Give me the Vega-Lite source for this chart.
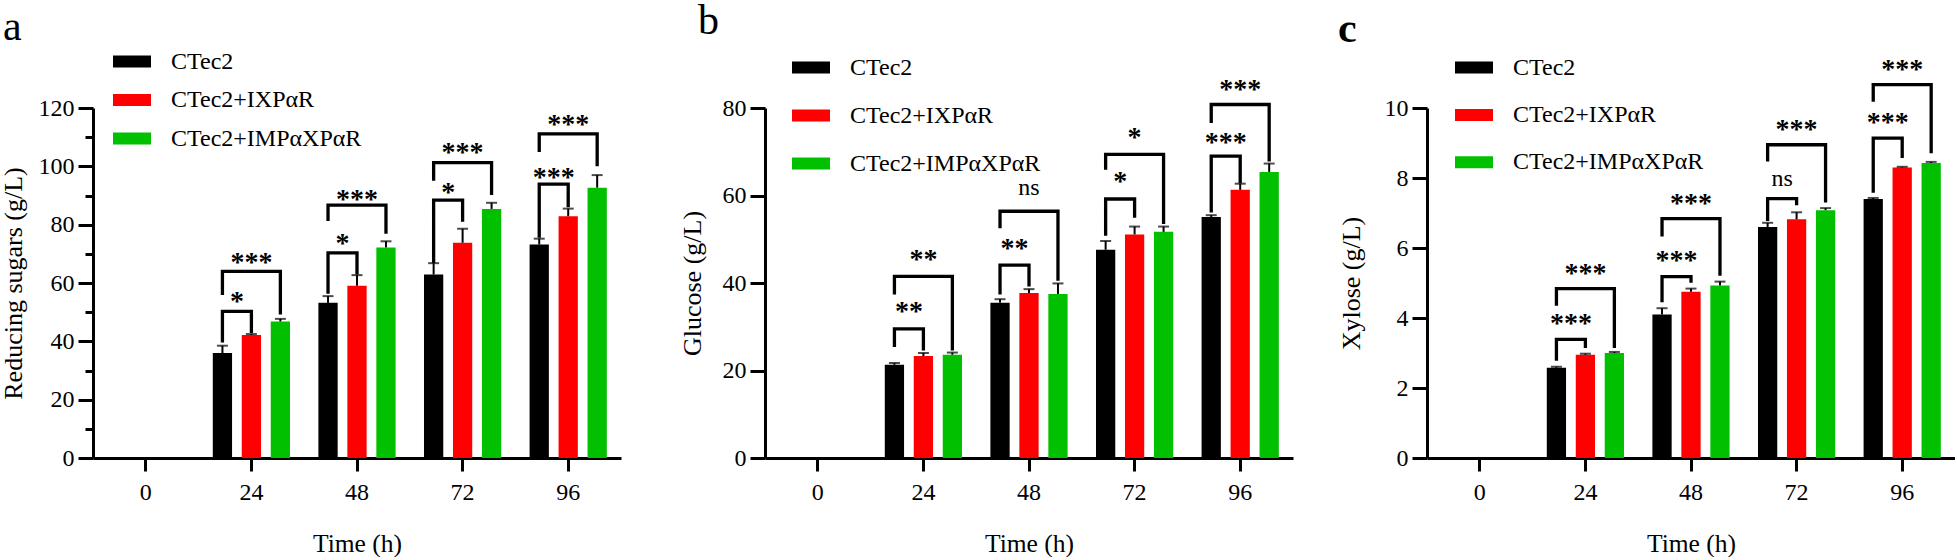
{
"$schema":"https://vega.github.io/schema/vega-lite/v6.json",
"padding":0,
"background":"white",
"config":{"view":{"stroke":null},"font":"Liberation Serif",
"axis":{"domainColor":"black","domainWidth":3,"tickColor":"black","tickWidth":3,"labelFont":"Liberation Serif","labelFontSize":24,"labelColor":"black","titleFont":"Liberation Serif","titleFontSize":25.5,"titleFontWeight":"normal","titleColor":"black","grid":false},
"axisY":{"titleFontSize":26},
"legend":{"title":null,"orient":"none","direction":"vertical","symbolType":"M-1,-0.3158H1V0.3158H-1Z","symbolSize":1444,"symbolStrokeWidth":0,"symbolOpacity":1,"labelFont":"Liberation Serif","labelFontSize":24,"labelColor":"black","labelOffset":20,"labelLimit":0,"padding":0}},
"datasets":{
"bars":[
{"p":"a","t":24,"s":"CTec2","v":36.0,"hi":38.5},{"p":"a","t":24,"s":"CTec2+IXPαR","v":42.2,"hi":42.5},{"p":"a","t":24,"s":"CTec2+IMPαXPαR","v":46.8,"hi":47.7},
{"p":"a","t":48,"s":"CTec2","v":53.2,"hi":55.5},{"p":"a","t":48,"s":"CTec2+IXPαR","v":59.1,"hi":62.7},{"p":"a","t":48,"s":"CTec2+IMPαXPαR","v":72.2,"hi":74.3},
{"p":"a","t":72,"s":"CTec2","v":62.9,"hi":66.8},{"p":"a","t":72,"s":"CTec2+IXPαR","v":73.8,"hi":78.6},{"p":"a","t":72,"s":"CTec2+IMPαXPαR","v":85.4,"hi":87.5},
{"p":"a","t":96,"s":"CTec2","v":73.2,"hi":75.2},{"p":"a","t":96,"s":"CTec2+IXPαR","v":82.9,"hi":85.5},{"p":"a","t":96,"s":"CTec2+IMPαXPαR","v":92.7,"hi":97.0},
{"p":"b","t":24,"s":"CTec2","v":21.3,"hi":21.7},{"p":"b","t":24,"s":"CTec2+IXPαR","v":23.3,"hi":24.0},{"p":"b","t":24,"s":"CTec2+IMPαXPαR","v":23.6,"hi":24.1},
{"p":"b","t":48,"s":"CTec2","v":35.5,"hi":36.3},{"p":"b","t":48,"s":"CTec2+IXPαR","v":37.7,"hi":38.6},{"p":"b","t":48,"s":"CTec2+IMPαXPαR","v":37.5,"hi":39.9},
{"p":"b","t":72,"s":"CTec2","v":47.6,"hi":49.6},{"p":"b","t":72,"s":"CTec2+IXPαR","v":51.1,"hi":52.9},{"p":"b","t":72,"s":"CTec2+IMPαXPαR","v":51.7,"hi":52.9},
{"p":"b","t":96,"s":"CTec2","v":55.1,"hi":55.5},{"p":"b","t":96,"s":"CTec2+IXPαR","v":61.3,"hi":62.7},{"p":"b","t":96,"s":"CTec2+IMPαXPαR","v":65.4,"hi":67.3},
{"p":"c","t":24,"s":"CTec2","v":2.58,"hi":2.61},{"p":"c","t":24,"s":"CTec2+IXPαR","v":2.95,"hi":2.98},{"p":"c","t":24,"s":"CTec2+IMPαXPαR","v":3.0,"hi":3.03},
{"p":"c","t":48,"s":"CTec2","v":4.1,"hi":4.28},{"p":"c","t":48,"s":"CTec2+IXPαR","v":4.75,"hi":4.84},{"p":"c","t":48,"s":"CTec2+IMPαXPαR","v":4.93,"hi":5.04},
{"p":"c","t":72,"s":"CTec2","v":6.6,"hi":6.72},{"p":"c","t":72,"s":"CTec2+IXPαR","v":6.82,"hi":7.02},{"p":"c","t":72,"s":"CTec2+IMPαXPαR","v":7.08,"hi":7.14},
{"p":"c","t":96,"s":"CTec2","v":7.4,"hi":7.43},{"p":"c","t":96,"s":"CTec2+IXPαR","v":8.3,"hi":8.32},{"p":"c","t":96,"s":"CTec2+IMPαXPαR","v":8.43,"hi":8.46}
],
"br":[
{"p":"a","t":24,"b":"24s","o":1,"s":"CTec2","v":39.6},{"p":"a","t":24,"b":"24s","o":2,"s":"CTec2","v":50.3},{"p":"a","t":24,"b":"24s","o":3,"s":"CTec2+IXPαR","v":50.3},{"p":"a","t":24,"b":"24s","o":4,"s":"CTec2+IXPαR","v":42.9},
{"p":"a","t":24,"b":"24l","o":1,"s":"CTec2","v":55.9},{"p":"a","t":24,"b":"24l","o":2,"s":"CTec2","v":64.0},{"p":"a","t":24,"b":"24l","o":3,"s":"CTec2+IMPαXPαR","v":64.0},{"p":"a","t":24,"b":"24l","o":4,"s":"CTec2+IMPαXPαR","v":49.2},
{"p":"a","t":48,"b":"48s","o":1,"s":"CTec2","v":56.3},{"p":"a","t":48,"b":"48s","o":2,"s":"CTec2","v":70.3},{"p":"a","t":48,"b":"48s","o":3,"s":"CTec2+IXPαR","v":70.3},{"p":"a","t":48,"b":"48s","o":4,"s":"CTec2+IXPαR","v":62.9},
{"p":"a","t":48,"b":"48l","o":1,"s":"CTec2","v":81.3},{"p":"a","t":48,"b":"48l","o":2,"s":"CTec2","v":86.7},{"p":"a","t":48,"b":"48l","o":3,"s":"CTec2+IMPαXPαR","v":86.7},{"p":"a","t":48,"b":"48l","o":4,"s":"CTec2+IMPαXPαR","v":76.9},
{"p":"a","t":72,"b":"72s","o":1,"s":"CTec2","v":66.9},{"p":"a","t":72,"b":"72s","o":2,"s":"CTec2","v":88.4},{"p":"a","t":72,"b":"72s","o":3,"s":"CTec2+IXPαR","v":88.4},{"p":"a","t":72,"b":"72s","o":4,"s":"CTec2+IXPαR","v":81.0},
{"p":"a","t":72,"b":"72l","o":1,"s":"CTec2","v":95.1},{"p":"a","t":72,"b":"72l","o":2,"s":"CTec2","v":101.3},{"p":"a","t":72,"b":"72l","o":3,"s":"CTec2+IMPαXPαR","v":101.3},{"p":"a","t":72,"b":"72l","o":4,"s":"CTec2+IMPαXPαR","v":90.2},
{"p":"a","t":96,"b":"96s","o":1,"s":"CTec2","v":75.5},{"p":"a","t":96,"b":"96s","o":2,"s":"CTec2","v":93.9},{"p":"a","t":96,"b":"96s","o":3,"s":"CTec2+IXPαR","v":93.9},{"p":"a","t":96,"b":"96s","o":4,"s":"CTec2+IXPαR","v":86.0},
{"p":"a","t":96,"b":"96l","o":1,"s":"CTec2","v":104.9},{"p":"a","t":96,"b":"96l","o":2,"s":"CTec2","v":111.1},{"p":"a","t":96,"b":"96l","o":3,"s":"CTec2+IMPαXPαR","v":111.1},{"p":"a","t":96,"b":"96l","o":4,"s":"CTec2+IMPαXPαR","v":100.0},
{"p":"b","t":24,"b":"24s","o":1,"s":"CTec2","v":25.4},{"p":"b","t":24,"b":"24s","o":2,"s":"CTec2","v":29.5},{"p":"b","t":24,"b":"24s","o":3,"s":"CTec2+IXPαR","v":29.5},{"p":"b","t":24,"b":"24s","o":4,"s":"CTec2+IXPαR","v":24.6},
{"p":"b","t":24,"b":"24l","o":1,"s":"CTec2","v":37.4},{"p":"b","t":24,"b":"24l","o":2,"s":"CTec2","v":41.5},{"p":"b","t":24,"b":"24l","o":3,"s":"CTec2+IMPαXPαR","v":41.5},{"p":"b","t":24,"b":"24l","o":4,"s":"CTec2+IMPαXPαR","v":24.6},
{"p":"b","t":48,"b":"48s","o":1,"s":"CTec2","v":37.4},{"p":"b","t":48,"b":"48s","o":2,"s":"CTec2","v":44.1},{"p":"b","t":48,"b":"48s","o":3,"s":"CTec2+IXPαR","v":44.1},{"p":"b","t":48,"b":"48s","o":4,"s":"CTec2+IXPαR","v":39.2},
{"p":"b","t":48,"b":"48l","o":1,"s":"CTec2","v":52.5},{"p":"b","t":48,"b":"48l","o":2,"s":"CTec2","v":56.4},{"p":"b","t":48,"b":"48l","o":3,"s":"CTec2+IMPαXPαR","v":56.4},{"p":"b","t":48,"b":"48l","o":4,"s":"CTec2+IMPαXPαR","v":40.5},
{"p":"b","t":72,"b":"72s","o":1,"s":"CTec2","v":50.8},{"p":"b","t":72,"b":"72s","o":2,"s":"CTec2","v":59.2},{"p":"b","t":72,"b":"72s","o":3,"s":"CTec2+IXPαR","v":59.2},{"p":"b","t":72,"b":"72s","o":4,"s":"CTec2+IXPαR","v":54.9},
{"p":"b","t":72,"b":"72l","o":1,"s":"CTec2","v":65.9},{"p":"b","t":72,"b":"72l","o":2,"s":"CTec2","v":69.4},{"p":"b","t":72,"b":"72l","o":3,"s":"CTec2+IMPαXPαR","v":69.4},{"p":"b","t":72,"b":"72l","o":4,"s":"CTec2+IMPαXPαR","v":53.5},
{"p":"b","t":96,"b":"96s","o":1,"s":"CTec2","v":56.1},{"p":"b","t":96,"b":"96s","o":2,"s":"CTec2","v":69.0},{"p":"b","t":96,"b":"96s","o":3,"s":"CTec2+IXPαR","v":69.0},{"p":"b","t":96,"b":"96s","o":4,"s":"CTec2+IXPαR","v":62.8},
{"p":"b","t":96,"b":"96l","o":1,"s":"CTec2","v":76.6},{"p":"b","t":96,"b":"96l","o":2,"s":"CTec2","v":80.8},{"p":"b","t":96,"b":"96l","o":3,"s":"CTec2+IMPαXPαR","v":80.8},{"p":"b","t":96,"b":"96l","o":4,"s":"CTec2+IMPαXPαR","v":67.8},
{"p":"c","t":24,"b":"24s","o":1,"s":"CTec2","v":2.78},{"p":"c","t":24,"b":"24s","o":2,"s":"CTec2","v":3.39},{"p":"c","t":24,"b":"24s","o":3,"s":"CTec2+IXPαR","v":3.39},{"p":"c","t":24,"b":"24s","o":4,"s":"CTec2+IXPαR","v":3.14},
{"p":"c","t":24,"b":"24l","o":1,"s":"CTec2","v":4.35},{"p":"c","t":24,"b":"24l","o":2,"s":"CTec2","v":4.84},{"p":"c","t":24,"b":"24l","o":3,"s":"CTec2+IMPαXPαR","v":4.84},{"p":"c","t":24,"b":"24l","o":4,"s":"CTec2+IMPαXPαR","v":3.14},
{"p":"c","t":48,"b":"48s","o":1,"s":"CTec2","v":4.45},{"p":"c","t":48,"b":"48s","o":2,"s":"CTec2","v":5.18},{"p":"c","t":48,"b":"48s","o":3,"s":"CTec2+IXPαR","v":5.18},{"p":"c","t":48,"b":"48s","o":4,"s":"CTec2+IXPαR","v":5.01},
{"p":"c","t":48,"b":"48l","o":1,"s":"CTec2","v":6.33},{"p":"c","t":48,"b":"48l","o":2,"s":"CTec2","v":6.84},{"p":"c","t":48,"b":"48l","o":3,"s":"CTec2+IMPαXPαR","v":6.84},{"p":"c","t":48,"b":"48l","o":4,"s":"CTec2+IMPαXPαR","v":5.21},
{"p":"c","t":72,"b":"72s","o":1,"s":"CTec2","v":6.77},{"p":"c","t":72,"b":"72s","o":2,"s":"CTec2","v":7.41},{"p":"c","t":72,"b":"72s","o":3,"s":"CTec2+IXPαR","v":7.41},{"p":"c","t":72,"b":"72s","o":4,"s":"CTec2+IXPαR","v":7.22},
{"p":"c","t":72,"b":"72l","o":1,"s":"CTec2","v":8.47},{"p":"c","t":72,"b":"72l","o":2,"s":"CTec2","v":8.95},{"p":"c","t":72,"b":"72l","o":3,"s":"CTec2+IMPαXPαR","v":8.95},{"p":"c","t":72,"b":"72l","o":4,"s":"CTec2+IMPαXPαR","v":7.3},
{"p":"c","t":96,"b":"96s","o":1,"s":"CTec2","v":7.58},{"p":"c","t":96,"b":"96s","o":2,"s":"CTec2","v":9.14},{"p":"c","t":96,"b":"96s","o":3,"s":"CTec2+IXPαR","v":9.14},{"p":"c","t":96,"b":"96s","o":4,"s":"CTec2+IXPαR","v":8.57},
{"p":"c","t":96,"b":"96l","o":1,"s":"CTec2","v":10.18},{"p":"c","t":96,"b":"96l","o":2,"s":"CTec2","v":10.67},{"p":"c","t":96,"b":"96l","o":3,"s":"CTec2+IMPαXPαR","v":10.67},{"p":"c","t":96,"b":"96l","o":4,"s":"CTec2+IMPαXPαR","v":8.71}
],
"lab":[
{"p":"a","t":24,"k":"s","s":"CTec2","txt":"*","v":50.6},{"p":"a","t":24,"k":"l","s":"CTec2+IXPαR","txt":"***","v":64.1},
{"p":"a","t":48,"k":"s","s":"CTec2","txt":"*","v":70.7},{"p":"a","t":48,"k":"l","s":"CTec2+IXPαR","txt":"***","v":85.7},
{"p":"a","t":72,"k":"s","s":"CTec2","txt":"*","v":88.1},{"p":"a","t":72,"k":"l","s":"CTec2+IXPαR","txt":"***","v":101.9},
{"p":"a","t":96,"k":"s","s":"CTec2","txt":"***","v":93.3},{"p":"a","t":96,"k":"l","s":"CTec2+IXPαR","txt":"***","v":111.5},
{"p":"b","t":24,"k":"s","s":"CTec2","txt":"**","v":31.5},{"p":"b","t":24,"k":"l","s":"CTec2+IXPαR","txt":"**","v":43.5},
{"p":"b","t":48,"k":"s","s":"CTec2","txt":"**","v":46.0},{"p":"b","t":48,"k":"l","s":"CTec2+IXPαR","txt":"ns","v":60.2},
{"p":"b","t":72,"k":"s","s":"CTec2","txt":"*","v":61.3},{"p":"b","t":72,"k":"l","s":"CTec2+IXPαR","txt":"*","v":71.4},
{"p":"b","t":96,"k":"s","s":"CTec2","txt":"***","v":70.2},{"p":"b","t":96,"k":"l","s":"CTec2+IXPαR","txt":"***","v":82.3},
{"p":"c","t":24,"k":"s","s":"CTec2","txt":"***","v":3.60},{"p":"c","t":24,"k":"l","s":"CTec2+IXPαR","txt":"***","v":5.04},
{"p":"c","t":48,"k":"s","s":"CTec2","txt":"***","v":5.40},{"p":"c","t":48,"k":"l","s":"CTec2+IXPαR","txt":"***","v":7.02},
{"p":"c","t":72,"k":"s","s":"CTec2","txt":"ns","v":7.76},{"p":"c","t":72,"k":"l","s":"CTec2+IXPαR","txt":"***","v":9.14},
{"p":"c","t":96,"k":"s","s":"CTec2","txt":"***","v":9.33},{"p":"c","t":96,"k":"l","s":"CTec2+IXPαR","txt":"***","v":10.85}
]},
"spacing":144,"bounds":"flush",
"resolve":{"legend":{"color":"independent"}},
"hconcat":[
{"width":528,"height":350,
"title":{"text":"a","anchor":"start","frame":"group","font":"Liberation Serif","fontSize":42,"fontWeight":"normal","color":"black","dx":-90,"dy":39.5,"baseline":"alphabetic","offset":0},
"encoding":{
"x":{"field":"t","type":"ordinal","scale":{"domain":[0,24,48,72,96],"paddingInner":0,"paddingOuter":0},"axis":{"title":"Time (h)","labelAngle":0,"tickSize":13,"labelPadding":9,"titleY":93,"titleBaseline":"alphabetic"}},
"xOffset":{"field":"s","type":"nominal","scale":{"domain":["CTec2","CTec2+IXPαR","CTec2+IMPαXPαR"],"paddingInner":0.335,"paddingOuter":0.49}},
"y":{"field":"v","type":"quantitative","scale":{"domain":[0,120],"nice":false},"axis":{"title":"Reducing sugars (g/L)","values":[0,10,20,30,40,50,60,70,80,90,100,110,120],"labelExpr":"datum.value % 20 === 0 ? datum.label : ''","tickSize":{"condition":{"test":"datum.value % 20 === 0","value":15},"value":8},"labelPadding":4,"titleX":-72,"titleBaseline":"alphabetic"}}},
"layer":[
{"data":{"name":"bars"},"transform":[{"filter":"datum.p==='a'"}],"layer":[
{"mark":{"type":"bar"},"encoding":{"color":{"field":"s","type":"nominal","scale":{"domain":["CTec2","CTec2+IXPαR","CTec2+IMPαXPαR"],"range":["#000000","#ff0000","#00c000"]},"legend":{"legendX":20,"legendY":-65.5,"rowPadding":7.5}}}},
{"mark":{"type":"rule","color":"black","strokeWidth":2},"encoding":{"y2":{"field":"hi"}}},
{"mark":{"type":"tick","color":"black","thickness":2,"size":11},"encoding":{"y":{"field":"hi","type":"quantitative","title":"Reducing sugars (g/L)"}}}]},
{"data":{"name":"br"},"transform":[{"filter":"datum.p==='a'"}],"mark":{"type":"line","color":"black","strokeWidth":3.3,"strokeJoin":"miter","strokeCap":"butt"},"encoding":{"detail":{"field":"b"},"order":{"field":"o"}}},
{"data":{"name":"lab"},"transform":[{"filter":"datum.p==='a' && datum.k==='s' && datum.txt!=='ns'"}],"mark":{"type":"text","dx":14.5,"fontSize":28,"fontWeight":"bold","baseline":"alphabetic","color":"black"},"encoding":{"text":{"field":"txt"}}},
{"data":{"name":"lab"},"transform":[{"filter":"datum.p==='a' && datum.k==='l' && datum.txt!=='ns'"}],"mark":{"type":"text","dx":0,"fontSize":28,"fontWeight":"bold","baseline":"alphabetic","color":"black"},"encoding":{"text":{"field":"txt"}}}
]},
{"hconcat":[
{"width":528,"height":350,
"title":{"text":"b","anchor":"start","frame":"group","font":"Liberation Serif","fontSize":42,"fontWeight":"normal","color":"black","dx":-67,"dy":27.5,"baseline":"alphabetic","offset":0},
"encoding":{
"x":{"field":"t","type":"ordinal","scale":{"domain":[0,24,48,72,96],"paddingInner":0,"paddingOuter":0},"axis":{"title":"Time (h)","labelAngle":0,"tickSize":13,"labelPadding":9,"titleY":93,"titleBaseline":"alphabetic"}},
"xOffset":{"field":"s","type":"nominal","scale":{"domain":["CTec2","CTec2+IXPαR","CTec2+IMPαXPαR"],"paddingInner":0.335,"paddingOuter":0.49}},
"y":{"field":"v","type":"quantitative","scale":{"domain":[0,80],"nice":false},"axis":{"title":"Glucose (g/L)","values":[0,20,40,60,80],"tickSize":15,"labelPadding":4,"titleX":-65,"titleBaseline":"alphabetic"}}},
"layer":[
{"data":{"name":"bars"},"transform":[{"filter":"datum.p==='b'"}],"layer":[
{"mark":{"type":"bar"},"encoding":{"color":{"field":"s","type":"nominal","scale":{"domain":["CTec2","CTec2+IXPαR","CTec2+IMPαXPαR"],"range":["#000000","#ff0000","#00c000"]},"legend":{"legendX":27,"legendY":-59.5,"rowPadding":17}}}},
{"mark":{"type":"rule","color":"black","strokeWidth":2},"encoding":{"y2":{"field":"hi"}}},
{"mark":{"type":"tick","color":"black","thickness":2,"size":11},"encoding":{"y":{"field":"hi","type":"quantitative","title":"Glucose (g/L)"}}}]},
{"data":{"name":"br"},"transform":[{"filter":"datum.p==='b'"}],"mark":{"type":"line","color":"black","strokeWidth":3.3,"strokeJoin":"miter","strokeCap":"butt"},"encoding":{"detail":{"field":"b"},"order":{"field":"o"}}},
{"data":{"name":"lab"},"transform":[{"filter":"datum.p==='b' && datum.k==='s' && datum.txt!=='ns'"}],"mark":{"type":"text","dx":14.5,"fontSize":28,"fontWeight":"bold","baseline":"alphabetic","color":"black"},"encoding":{"text":{"field":"txt"}}},
{"data":{"name":"lab"},"transform":[{"filter":"datum.p==='b' && datum.k==='l' && datum.txt!=='ns'"}],"mark":{"type":"text","dx":0,"fontSize":28,"fontWeight":"bold","baseline":"alphabetic","color":"black"},"encoding":{"text":{"field":"txt"}}},
{"data":{"name":"lab"},"transform":[{"filter":"datum.p==='b' && datum.k==='l' && datum.txt==='ns'"}],"mark":{"type":"text","dx":0,"fontSize":24,"baseline":"alphabetic","color":"black"},"encoding":{"text":{"field":"txt"}}}
]},
{"width":528,"height":350,
"title":{"text":"c","anchor":"start","frame":"group","font":"Liberation Serif","fontSize":42,"fontWeight":"bold","color":"black","dx":-89,"dy":35.5,"baseline":"alphabetic","offset":0},
"encoding":{
"x":{"field":"t","type":"ordinal","scale":{"domain":[0,24,48,72,96],"paddingInner":0,"paddingOuter":0},"axis":{"title":"Time (h)","labelAngle":0,"tickSize":13,"labelPadding":9,"titleY":93,"titleBaseline":"alphabetic"}},
"xOffset":{"field":"s","type":"nominal","scale":{"domain":["CTec2","CTec2+IXPαR","CTec2+IMPαXPαR"],"paddingInner":0.335,"paddingOuter":0.49}},
"y":{"field":"v","type":"quantitative","scale":{"domain":[0,10],"nice":false},"axis":{"title":"Xylose (g/L)","values":[0,2,4,6,8,10],"tickSize":15,"labelPadding":4,"titleX":-68,"titleBaseline":"alphabetic"}}},
"layer":[
{"data":{"name":"bars"},"transform":[{"filter":"datum.p==='c'"}],"layer":[
{"mark":{"type":"bar"},"encoding":{"color":{"field":"s","type":"nominal","scale":{"domain":["CTec2","CTec2+IXPαR","CTec2+IMPαXPαR"],"range":["#000000","#ff0000","#00c000"]},"legend":{"legendX":28,"legendY":-59.5,"rowPadding":16.4}}}},
{"mark":{"type":"rule","color":"black","strokeWidth":2},"encoding":{"y2":{"field":"hi"}}},
{"mark":{"type":"tick","color":"black","thickness":2,"size":11},"encoding":{"y":{"field":"hi","type":"quantitative","title":"Xylose (g/L)"}}}]},
{"data":{"name":"br"},"transform":[{"filter":"datum.p==='c'"}],"mark":{"type":"line","color":"black","strokeWidth":3.3,"strokeJoin":"miter","strokeCap":"butt"},"encoding":{"detail":{"field":"b"},"order":{"field":"o"}}},
{"data":{"name":"lab"},"transform":[{"filter":"datum.p==='c' && datum.k==='s' && datum.txt!=='ns'"}],"mark":{"type":"text","dx":14.5,"fontSize":28,"fontWeight":"bold","baseline":"alphabetic","color":"black"},"encoding":{"text":{"field":"txt"}}},
{"data":{"name":"lab"},"transform":[{"filter":"datum.p==='c' && datum.k==='l' && datum.txt!=='ns'"}],"mark":{"type":"text","dx":0,"fontSize":28,"fontWeight":"bold","baseline":"alphabetic","color":"black"},"encoding":{"text":{"field":"txt"}}},
{"data":{"name":"lab"},"transform":[{"filter":"datum.p==='c' && datum.k==='s' && datum.txt==='ns'"}],"mark":{"type":"text","dx":14.5,"fontSize":24,"baseline":"alphabetic","color":"black"},"encoding":{"text":{"field":"txt"}}}
]}
],"spacing":134,"bounds":"flush","resolve":{"legend":{"color":"independent"}}}
]
}
